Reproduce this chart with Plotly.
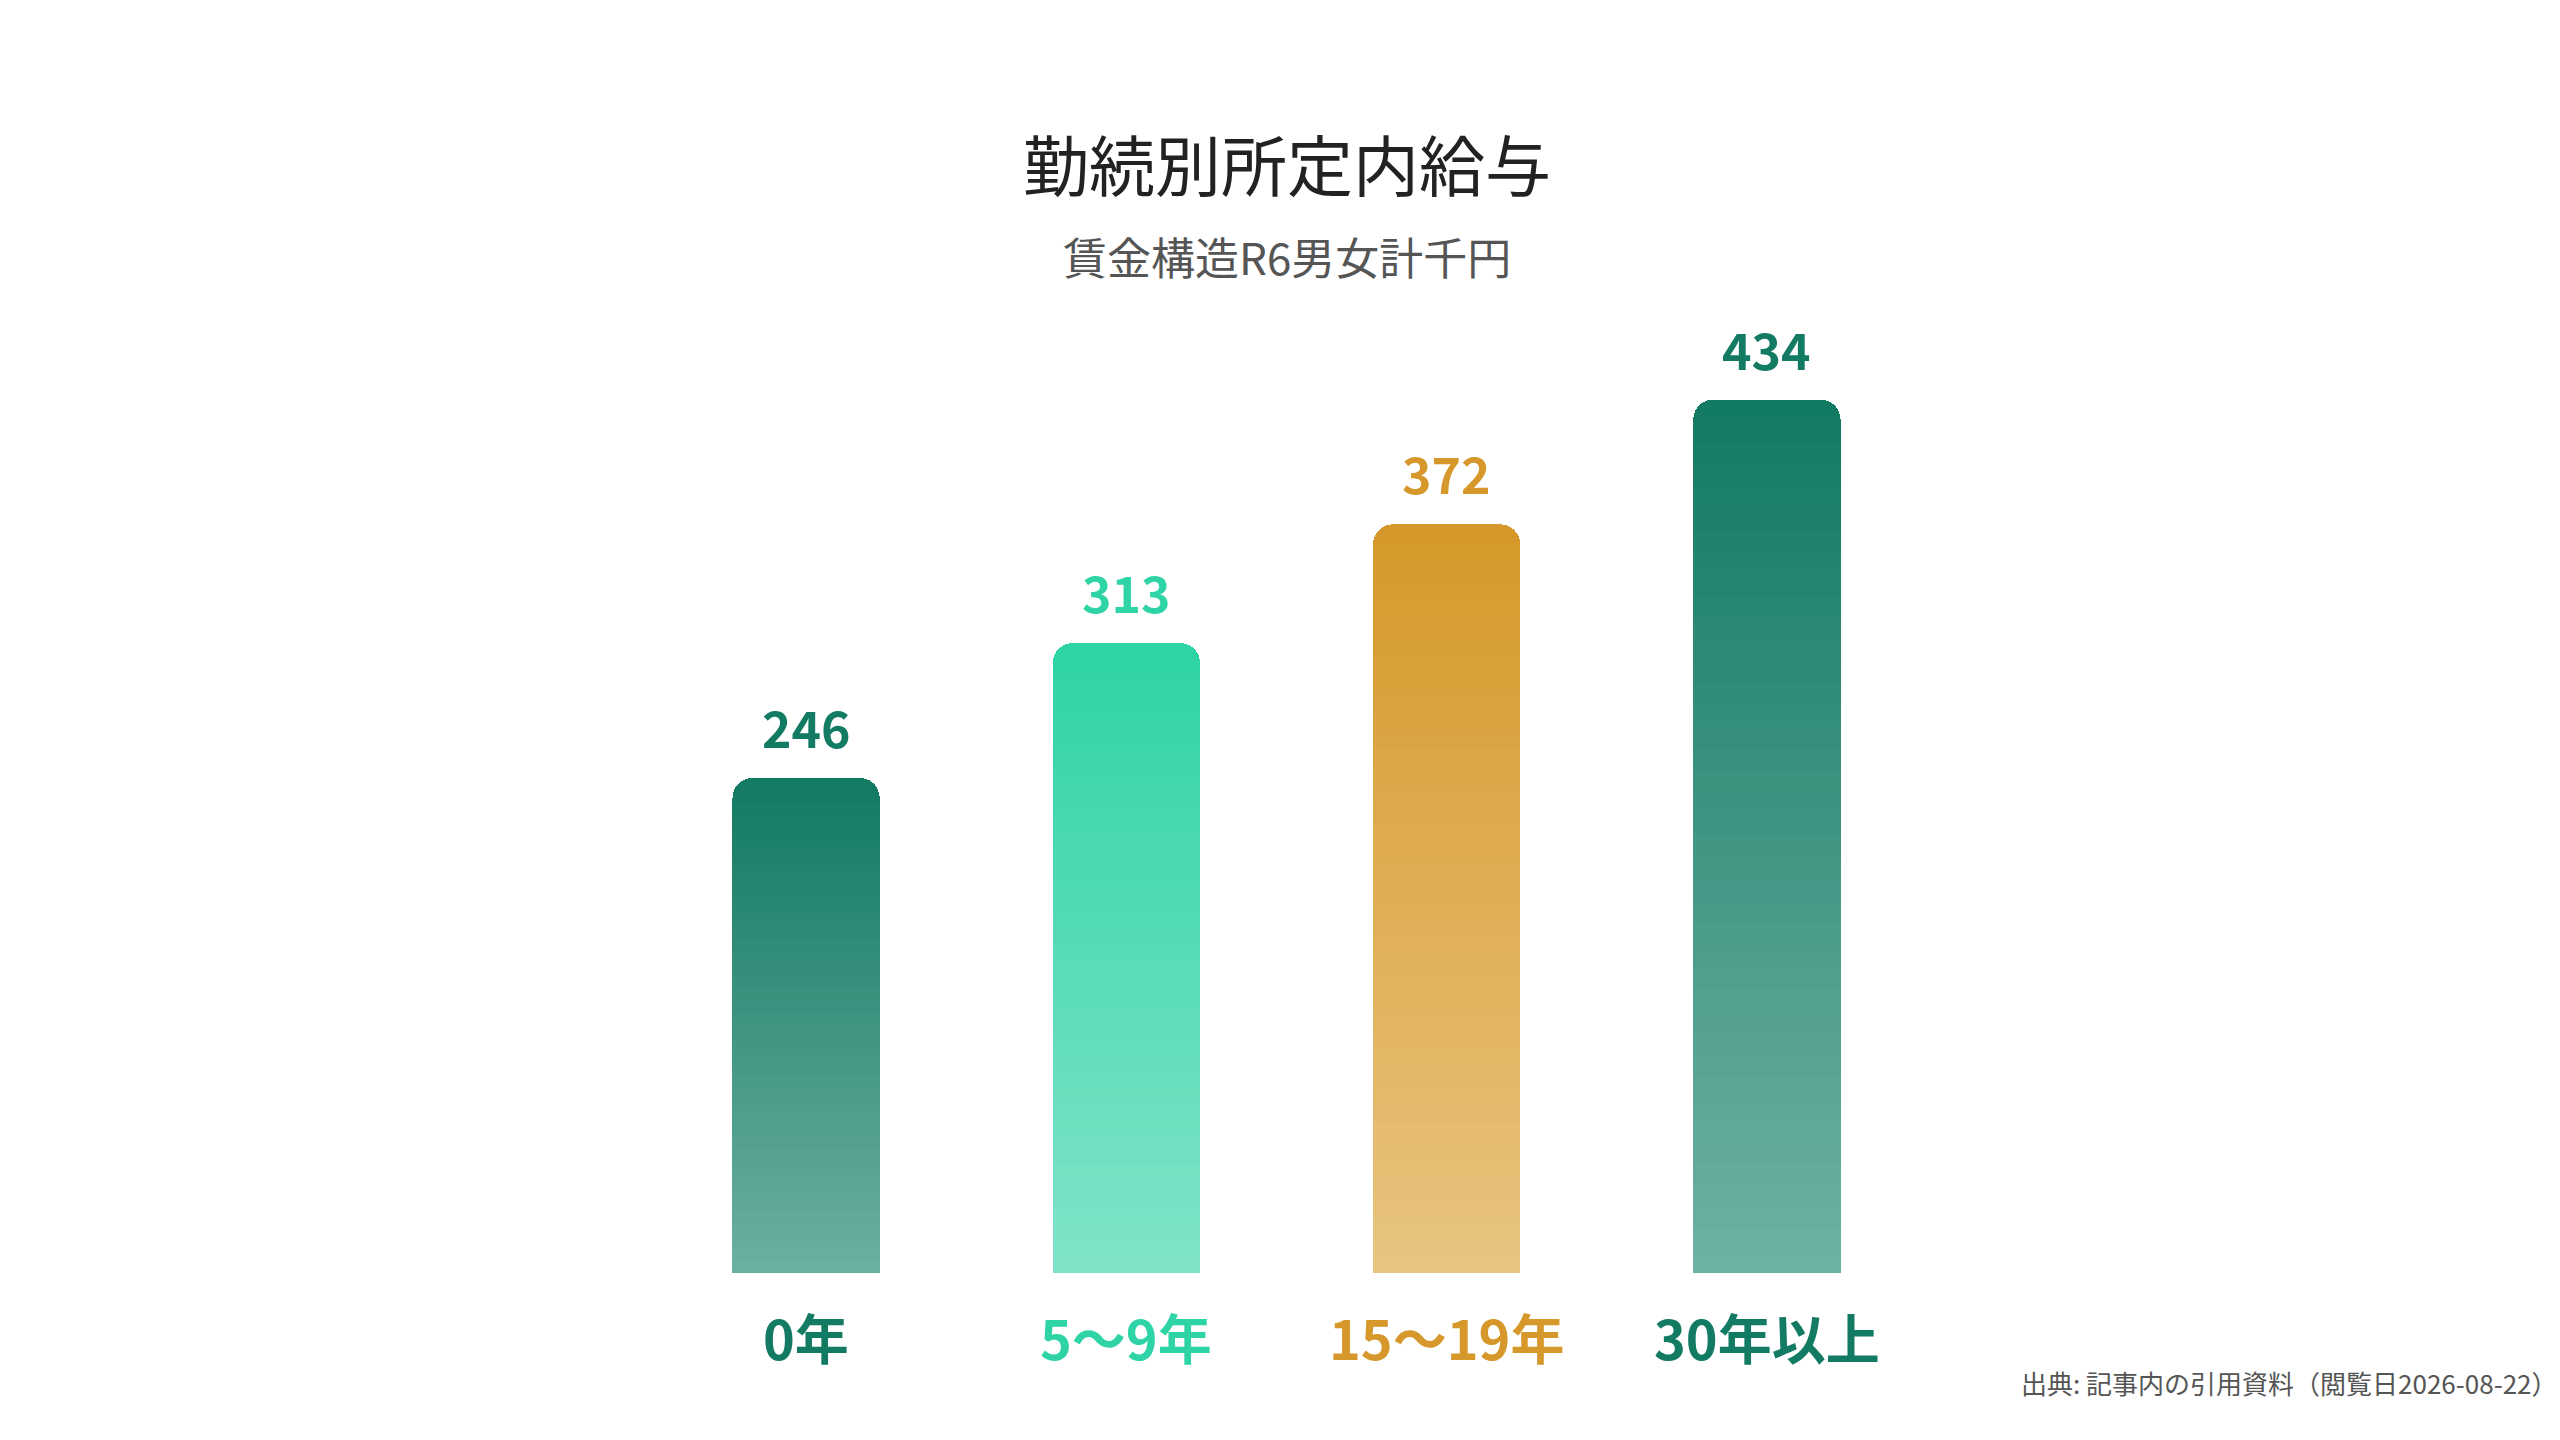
import plotly.graph_objects as go

categories = ["0年", "5〜9年", "15〜19年", "30年以上"]
values = [246, 313, 372, 434]
top_colors = ["#137a64", "#2fd4a6", "#d6982a", "#137a64"]
bottom_colors = ["#6aafa0", "#80e3c8", "#e8c47f", "#6db1a3"]

FONT = "Noto Sans CJK JP"
N = 40


def hex_rgb(h):
    return tuple(int(h[i:i + 2], 16) for i in (1, 3, 5))


def mix(c1, c2, t):
    a, b = hex_rgb(c1), hex_rgb(c2)
    return "rgb(%d,%d,%d)" % tuple(round(a[i] + (b[i] - a[i]) * t) for i in range(3))


fig = go.Figure()
# gradient made from stacked slices, bottom slice first
for k in range(N):
    t = k / (N - 1)
    fig.add_trace(go.Bar(
        x=categories,
        y=[v / N for v in values],
        marker=dict(color=[mix(bc, tc, t) for tc, bc in zip(top_colors, bottom_colors)],
                    line_width=0, cornerradius=20),
        hoverinfo="skip", showlegend=False,
    ))

for cat, v, c in zip(categories, values, top_colors):
    fig.add_annotation(x=cat, y=v, text=f"<b>{v}</b>", showarrow=False,
                       yanchor="bottom", yshift=14, font=dict(size=50, color=c, family=FONT))
    fig.add_annotation(x=cat, y=0, text=f"<b>{cat}</b>", showarrow=False,
                       yanchor="top", yshift=-22, font=dict(size=54, color=c, family=FONT))

fig.add_annotation(xref="paper", yref="paper", x=0.5, y=1, yshift=195, text="勤続別所定内給与",
                   showarrow=False, font=dict(size=66, color="#222222", family=FONT))
fig.add_annotation(xref="paper", yref="paper", x=0.5, y=1, yshift=85, text="賃金構造R6男女計千円",
                   showarrow=False, font=dict(size=44, color="#555555", family=FONT))
fig.add_annotation(xref="paper", yref="paper", x=1, y=0, xshift=633, yshift=-130,
                   xanchor="right", text="出典: 記事内の引用資料（閲覧日2026-08-22）",
                   showarrow=False, font=dict(size=26, color="#555555", family=FONT))

fig.update_layout(
    width=2560, height=1440, barmode="stack", bargap=0.54,
    paper_bgcolor="white", plot_bgcolor="white",
    margin=dict(l=638, r=641, t=299, b=175),
    font=dict(family=FONT),
    xaxis=dict(showticklabels=False, showgrid=False, zeroline=False, range=[-0.5, 3.5]),
    yaxis=dict(visible=False, range=[0, 480]),
)

fig.write_html("out.html")
